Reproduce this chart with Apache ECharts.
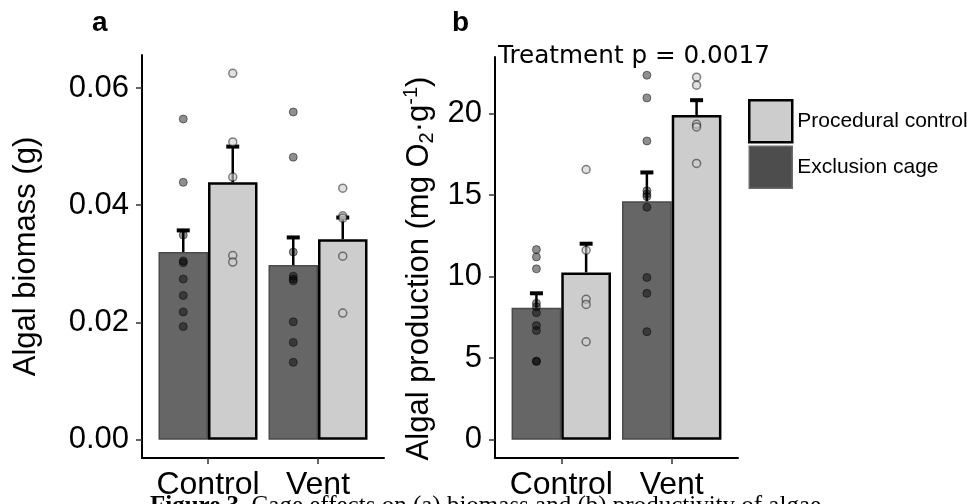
<!DOCTYPE html>
<html>
<head>
<meta charset="utf-8">
<script src="https://cdn.jsdelivr.net/npm/echarts@6/dist/echarts.min.js"></script>
<style>
  html, body { margin: 0; padding: 0; background: #fff; }
  #chart { width: 975px; height: 504px; }
</style>
</head>
<body>
<div id="chart"></div>
<script>
// Sites on the x axis and the two treatments dodged within each site
const sites = ['Control', 'Vent'];

// (a) algal biomass, g — bar means, upper error limits, replicate values
const biomassCageMean = [0.0320, 0.0298];
const biomassCageUpper = [0.0357, 0.0345];
const biomassProcMean = [0.0439, 0.0342];
const biomassProcUpper = [0.0500, 0.0379];
const biomassCageControl = [0.0547, 0.0439, 0.0349, 0.0305, 0.0302, 0.0274, 0.0246, 0.0218, 0.0193];
const biomassCageVent = [0.0559, 0.0482, 0.0320, 0.0279, 0.0274, 0.0271, 0.0201, 0.0166, 0.0132];
const biomassProcControl = [0.0625, 0.0508, 0.0448, 0.0314, 0.0303];
const biomassProcVent = [0.0429, 0.0382, 0.0378, 0.0313, 0.0216];
const biomassTicks = [0, 0.02, 0.04, 0.06];

// (b) algal production, mg O2 per g — bar means, upper error limits, replicate values
const prodCageMean = [8.10, 14.62];
const prodCageUpper = [8.98, 16.39];
const prodProcMean = [10.26, 19.91];
const prodProcUpper = [12.02, 20.82];
const prodCageControl = [11.66, 11.21, 10.48, 8.37, 8.16, 7.79, 7.00, 6.70, 4.81, 4.81];
const prodCageVent = [22.35, 20.96, 18.32, 15.27, 15.07, 14.91, 14.26, 9.95, 8.98, 6.63];
const prodProcControl = [16.57, 11.62, 8.61, 8.30, 6.01];
const prodProcVent = [22.23, 21.74, 19.34, 19.18, 16.94];
const prodTicks = [0, 5, 10, 15, 20];

const pLabel = 'Treatment p = 0.0017';

// ---- layout helpers ----
const DODGE = 0.9;                 // total dodge width per site (axis units)
const HALF = DODGE / 4;            // centre offset of each dodged bar
const OFFSET = { cage: -HALF, proc: HALF };
const SANS = 'Liberation Sans, Arial, sans-serif';
const SERIF = 'Liberation Serif, serif';

const CAGE_FILL = '#666666';
const PROC_FILL = '#cdcdcd';

function barData(means) { return means.map((v, i) => [i + 1, v]); }
function errData(means, uppers, off) { return means.map((v, i) => [i + 1 + off, v, uppers[i]]); }
function pointData(perSite, off) {
  const out = [];
  perSite.forEach((vals, i) => vals.forEach(v => out.push([i + 1 + off, v])));
  return out;
}

function renderErr(params, api) {
  const x = api.value(0);
  const p0 = api.coord([x, api.value(1)]);
  const p1 = api.coord([x, api.value(2)]);
  return {
    type: 'group',
    children: [
      { type: 'line', shape: { x1: p0[0], y1: p0[1], x2: p1[0], y2: p1[1] },
        style: { stroke: '#000', lineWidth: 2.5 } },
      { type: 'line', shape: { x1: p1[0] - 6.5, y1: p1[1], x2: p1[0] + 6.5, y2: p1[1] },
        style: { stroke: '#000', lineWidth: 4 } }
    ]
  };
}

function xAxisFor(grid) {
  return {
    type: 'value', gridIndex: grid, min: 0.4, max: 2.6,
    splitLine: { show: false },
    axisLine: { show: true, onZero: false, lineStyle: { color: '#000', width: 2 } },
    axisTick: { show: true, customValues: [1, 2], length: 6, lineStyle: { color: '#333', width: 1.5 } },
    axisLabel: { customValues: [1, 2], formatter: v => sites[Math.round(v) - 1],
      fontSize: 32, color: '#000', fontFamily: SANS, margin: 11 }
  };
}

function yAxisFor(grid, min, max, ticks, fmt, name, gap, pad) {
  return {
    type: 'value', gridIndex: grid, min: min, max: max,
    splitLine: { show: false },
    axisLine: { show: true, onZero: false, lineStyle: { color: '#000', width: 2 } },
    axisTick: { show: true, customValues: ticks, length: 6, lineStyle: { color: '#333', width: 1.5 } },
    axisLabel: { customValues: ticks, formatter: fmt, fontSize: 31, color: '#000',
      fontFamily: SANS, margin: 13 },
    name: name, nameLocation: 'middle', nameGap: gap, nameRotate: 90,
    nameTextStyle: {
      fontSize: 31, color: '#000', fontFamily: SANS, padding: pad,
      rich: {
        sub: { fontSize: 20, fontFamily: SANS, color: '#000', verticalAlign: 'bottom', lineHeight: 36 },
        sup: { fontSize: 20, fontFamily: SANS, color: '#000', verticalAlign: 'top', lineHeight: 36 }
      }
    }
  };
}

function panelSeries(grid, cageMean, cageUp, procMean, procUp, cagePts, procPts) {
  return [
    { type: 'bar', name: 'Exclusion cage', xAxisIndex: grid, yAxisIndex: grid,
      data: barData(cageMean), barGap: '0%', barCategoryGap: '10%', z: 2,
      itemStyle: { color: CAGE_FILL, borderColor: '#4a4a4a', borderWidth: 1.5 } },
    { type: 'bar', name: 'Procedural control', xAxisIndex: grid, yAxisIndex: grid,
      data: barData(procMean), barGap: '0%', barCategoryGap: '10%', z: 2,
      itemStyle: { color: PROC_FILL, borderColor: '#000', borderWidth: 2.5 } },
    { type: 'custom', name: 'cage se', xAxisIndex: grid, yAxisIndex: grid, z: 3,
      renderItem: renderErr, data: errData(cageMean, cageUp, OFFSET.cage) },
    { type: 'custom', name: 'procedural se', xAxisIndex: grid, yAxisIndex: grid, z: 3,
      renderItem: renderErr, data: errData(procMean, procUp, OFFSET.proc) },
    { type: 'scatter', name: 'cage replicates', xAxisIndex: grid, yAxisIndex: grid, z: 4,
      symbolSize: 8, data: pointData(cagePts, OFFSET.cage),
      itemStyle: { color: 'rgba(0,0,0,0.55)', borderColor: 'rgba(0,0,0,0.6)', borderWidth: 1 } },
    { type: 'scatter', name: 'procedural replicates', xAxisIndex: grid, yAxisIndex: grid, z: 4,
      symbolSize: 8, data: pointData(procPts, OFFSET.proc),
      itemStyle: { color: 'rgba(205,205,205,0.75)', borderColor: 'rgba(0,0,0,0.6)', borderWidth: 1.5 } }
  ];
}

const chart = echarts.init(document.getElementById('chart'), null, { renderer: 'canvas' });

chart.setOption({
  animation: false,
  backgroundColor: '#fff',
  grid: [
    { left: 142, right: 975 - 384, top: 55, bottom: 504 - 458 },
    { left: 495, right: 975 - 738, top: 57, bottom: 504 - 458 }
  ],
  xAxis: [xAxisFor(0), xAxisFor(1)],
  yAxis: [
    yAxisFor(0, -0.003125, 0.065625, biomassTicks, v => v.toFixed(2), 'Algal biomass (g)', 100, 0),
    yAxisFor(1, -1.1175, 23.4675, prodTicks, v => String(v),
      'Algal production (mg O{sub|2}·g{sup|-1})', 58, [0, 22, 0, 0])
  ],
  legend: {
    orient: 'vertical', left: 743, top: 94, itemWidth: 43, itemHeight: 42, itemGap: 2,
    icon: 'rect', selectedMode: false,
    textStyle: { fontSize: 21, color: '#000', fontFamily: SANS },
    data: [
      { name: 'Procedural control', itemStyle: { color: PROC_FILL, borderColor: '#000', borderWidth: 2.5 } },
      { name: 'Exclusion cage', itemStyle: { color: '#4d4d4d', borderColor: '#6a6a6a', borderWidth: 1.5 } }
    ]
  },
  graphic: [
    { type: 'text', left: 92, top: 9, style: { text: 'a', fontSize: 28, fontWeight: 'bold', fontFamily: SANS, fill: '#000' } },
    { type: 'text', left: 452, top: 9, style: { text: 'b', fontSize: 28, fontWeight: 'bold', fontFamily: SANS, fill: '#000' } },
    { type: 'text', left: 498, top: 44, z: 10, style: { text: pLabel, fontSize: 24.7, fontFamily: 'DejaVu Sans', fill: '#000' } },
    { type: 'text', left: 150, top: 494, style: {
        text: '{b|Figure 3.} Cage effects on (a) biomass and (b) productivity of algae',
        fontSize: 25, fontFamily: SERIF, fill: '#000',
        rich: { b: { fontSize: 25, fontWeight: 'bold', fontFamily: SERIF, fill: '#000' } }
      } }
  ],
  series: [
    ...panelSeries(0, biomassCageMean, biomassCageUpper, biomassProcMean, biomassProcUpper,
      [biomassCageControl, biomassCageVent], [biomassProcControl, biomassProcVent]),
    ...panelSeries(1, prodCageMean, prodCageUpper, prodProcMean, prodProcUpper,
      [prodCageControl, prodCageVent], [prodProcControl, prodProcVent])
  ]
});
</script>
</body>
</html>
